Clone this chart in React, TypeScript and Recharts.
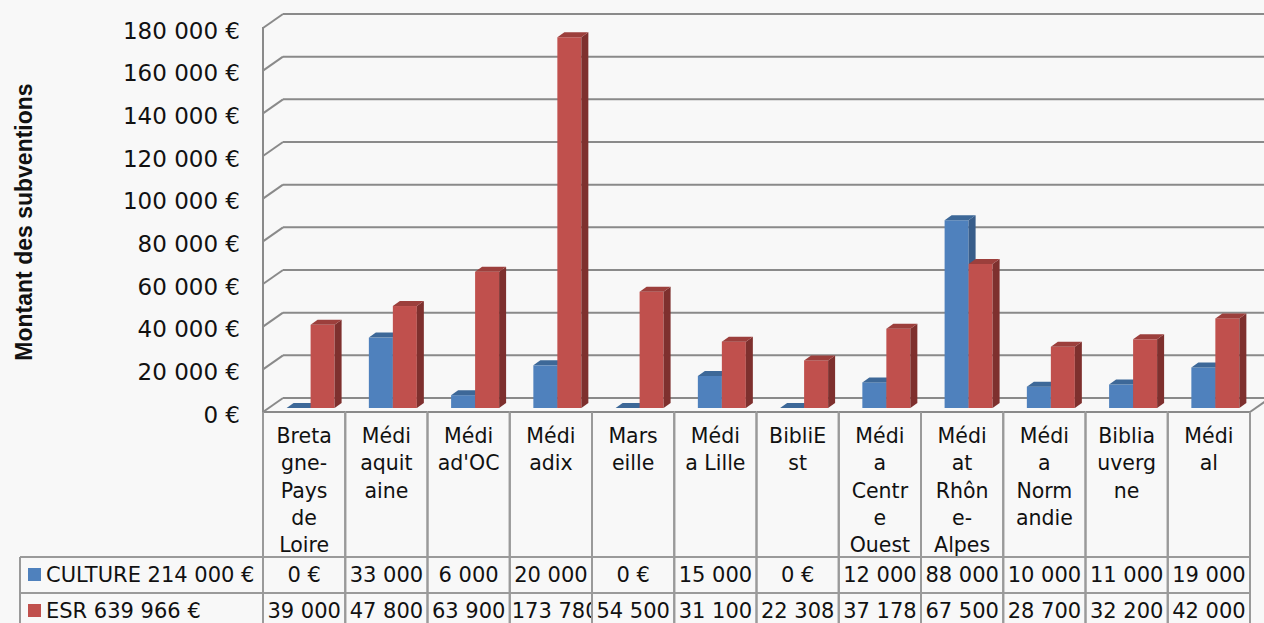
import { BarChart, Bar, XAxis, YAxis, CartesianGrid } from 'recharts';

const CATEGORIES = [
  'Bretagne-Pays de Loire', 'Médiaquitaine', "Médiad'OC", 'Médiadix', 'Marseille', 'Média Lille',
  'BibliEst', 'Média Centre Ouest', 'Médiat Rhône-Alpes', 'Média Normandie', 'Bibliauvergne', 'Médial',
];
// wrapped exactly as in the data table header
const CATEGORY_LINES = [
  ['Breta', 'gne-', 'Pays', 'de', 'Loire'], ['Médi', 'aquit', 'aine'], ['Médi', "ad'OC"], ['Médi', 'adix'],
  ['Mars', 'eille'], ['Médi', 'a Lille'], ['BibliE', 'st'], ['Médi', 'a', 'Centr', 'e', 'Ouest'],
  ['Médi', 'at', 'Rhôn', 'e-', 'Alpes'], ['Médi', 'a', 'Norm', 'andie'], ['Biblia', 'uverg', 'ne'], ['Médi', 'al'],
];
const CULTURE = [0, 33000, 6000, 20000, 0, 15000, 0, 12000, 88000, 10000, 11000, 19000];
const ESR = [39000, 47800, 63900, 173780, 54500, 31100, 22308, 37178, 67500, 28700, 32200, 42000];
const Y_TICKS = [0, 20000, 40000, 60000, 80000, 100000, 120000, 140000, 160000, 180000];

const data = CATEGORIES.map((name, i) => ({ name, culture: CULTURE[i], esr: ESR[i] }));

const W = 1264;
const H = 623;
const PLOT_LEFT = 269;
const PLOT_RIGHT = 1256;
const PLOT_TOP = 24;
const PLOT_BOTTOM = 408;
const BAND = (PLOT_RIGHT - PLOT_LEFT) / CATEGORIES.length;
// offsets of the front / back walls relative to the plane the bars stand in
const FRONT = { dx: -6, dy: 4 };
const BACK = { dx: 14, dy: -10 };
const DEPTH = { dx: 7, dy: -5 };
const ROW1 = 557;
const ROW2 = 593;
const GRID = '#8a8a8a';
const LINE = '#9a9a9a';
const FONT = "'DejaVu Sans', sans-serif";
const CELL_FONT = 21;

const fmt = (n: number) => String(n).replace(/\B(?=(\d{3})+(?!\d))/g, ' ');
const cellText = (n: number) => (n === 0 ? '0 €' : fmt(n));
const sum = (a: number[]) => a.reduce((s, v) => s + v, 0);
// rough DejaVu Sans width, used to start-align text that overflows its cell (as Excel does)
const textWidth = (t: string, size: number) => [...t].reduce((w, c) => w + (c === ' ' ? 0.318 : 0.636), 0) * size;

const SERIES = [
  { key: 'culture', label: `CULTURE ${fmt(sum(CULTURE))} €`, values: CULTURE, front: '#4f81bd', top: '#3d6898', side: '#385d8a' },
  { key: 'esr', label: `ESR ${fmt(sum(ESR))} €`, values: ESR, front: '#c0504d', top: '#9c3f3c', side: '#7e302e' },
];

function Bar3D(props: any) {
  const { x, y, width, height, front, top, side } = props;
  const w = width, h = Math.max(0, height);
  const { dx, dy } = DEPTH;
  return (
    <g>
      {h > 0 && <rect x={x} y={y} width={w} height={h} fill={front} />}
      {h > 0 && (
        <polygon points={`${x + w},${y} ${x + w + dx},${y + dy} ${x + w + dx},${y + h + dy} ${x + w},${y + h}`} fill={side} />
      )}
      <polygon points={`${x},${y} ${x + dx},${y + dy} ${x + w + dx},${y + dy} ${x + w},${y}`} fill={top} />
    </g>
  );
}

function GridLine(props: any) {
  const { y1, index } = props;
  return (
    <g key={`g${index}`}>
      <line x1={PLOT_LEFT + BACK.dx} y1={y1 + BACK.dy} x2={W + 10} y2={y1 + BACK.dy} stroke={GRID} strokeWidth={2} />
      <line x1={PLOT_LEFT + FRONT.dx} y1={y1 + FRONT.dy} x2={PLOT_LEFT + BACK.dx} y2={y1 + BACK.dy} stroke={GRID} strokeWidth={2} />
    </g>
  );
}

function YTick(props: any) {
  const { y, payload } = props;
  const fy = y + FRONT.dy;
  return (
    <g>
      <text x={240} y={fy + 2.5} textAnchor="end" dominantBaseline="central" fontFamily={FONT} fontSize={23} fill="#111">
        {`${fmt(payload.value)} €`}
      </text>
      {payload.value === Y_TICKS[Y_TICKS.length - 1] && (
        <line x1={PLOT_LEFT + FRONT.dx} y1={fy - 1} x2={PLOT_LEFT + FRONT.dx} y2={PLOT_BOTTOM + FRONT.dy} stroke={GRID} strokeWidth={2} />
      )}
      {payload.value === 0 && (
        <text
          transform={`translate(24, ${(PLOT_TOP + PLOT_BOTTOM) / 2 + 6}) rotate(-90)`}
          textAnchor="middle" dominantBaseline="central"
          fontFamily="'Liberation Sans', Arial, sans-serif" fontWeight="bold" fontSize={23} fill="#111"
        >
          Montant des subventions
        </text>
      )}
    </g>
  );
}

function XTick(props: any) {
  const { x, payload } = props;
  const i = CATEGORIES.indexOf(payload.value);
  const cx = x + FRONT.dx;
  const left = cx - BAND / 2;
  const right = cx + BAND / 2;
  const floor = PLOT_BOTTOM + FRONT.dy;
  const last = i === CATEGORIES.length - 1;
  const clipId = `cell-clip-${i}`;
  return (
    <g>
      <defs>
        <clipPath id={clipId}>
          <rect x={left + 1} y={ROW1} width={BAND - 2} height={H - ROW1} />
        </clipPath>
      </defs>
      <line x1={left} y1={floor} x2={right} y2={floor} stroke={GRID} strokeWidth={2} />
      {last && <line x1={right} y1={floor} x2={right + 20} y2={floor - 14} stroke={GRID} strokeWidth={2} />}
      <line x1={left} y1={floor} x2={left} y2={H} stroke={LINE} strokeWidth={2} />
      <line x1={right} y1={floor} x2={right} y2={H} stroke={LINE} strokeWidth={2} />
      <line x1={left} y1={ROW1} x2={right} y2={ROW1} stroke={LINE} strokeWidth={2} />
      <line x1={left} y1={ROW2} x2={right} y2={ROW2} stroke={LINE} strokeWidth={2} />
      {CATEGORY_LINES[i].map((t, k) => (
        <text key={k} x={cx} y={443 + k * 27.25} textAnchor="middle" fontFamily={FONT} fontSize={20.5} fill="#111">
          {t}
        </text>
      ))}
      <g clipPath={`url(#${clipId})`}>
        {SERIES.map((s, r) => {
          const t = cellText(s.values[i]);
          const fits = textWidth(t, CELL_FONT) <= BAND - 4;
          return (
            <text
              key={s.key}
              x={fits ? cx : left + 2}
              y={(r === 0 ? ROW1 : ROW2) + 18}
              textAnchor={fits ? 'middle' : 'start'}
              dominantBaseline="central"
              fontFamily={FONT} fontSize={CELL_FONT} fill="#111"
            >
              {t}
            </text>
          );
        })}
      </g>
      {i === 0 && (
        <g>
          <line x1={20} y1={ROW1} x2={left} y2={ROW1} stroke={LINE} strokeWidth={2} />
          <line x1={20} y1={ROW2} x2={left} y2={ROW2} stroke={LINE} strokeWidth={2} />
          <line x1={20} y1={ROW1} x2={20} y2={H} stroke={LINE} strokeWidth={2} />
          {SERIES.map((s, r) => {
            const cy = (r === 0 ? ROW1 : ROW2) + 18;
            return (
              <g key={s.key}>
                <rect x={28} y={cy - 7} width={13} height={13} fill={s.front} />
                <text x={46} y={cy} dominantBaseline="central" fontFamily={FONT} fontSize={CELL_FONT} fill="#111">
                  {s.label}
                </text>
              </g>
            );
          })}
        </g>
      )}
    </g>
  );
}

export default function App() {
  return (
    <div style={{ position: 'absolute', left: 0, top: 0, width: W, height: H, background: '#f8f8f8', overflow: 'hidden' }}>
      <BarChart
        width={W}
        height={H}
        data={data}
        margin={{ top: PLOT_TOP, right: W - PLOT_RIGHT, bottom: 0, left: PLOT_LEFT - 60 }}
        barCategoryGap="21.4%"
        barGap={0}
      >
        <CartesianGrid vertical={false} horizontal={(p: any) => <GridLine {...p} />} />
        <XAxis
          dataKey="name" height={H - PLOT_BOTTOM} axisLine={false} tickLine={false}
          interval={0} tick={(p: any) => <XTick {...p} />}
        />
        <YAxis
          width={60} domain={[0, 180000]} ticks={Y_TICKS} interval={0}
          axisLine={false} tickLine={false} tick={(p: any) => <YTick {...p} />}
        />
        {SERIES.map(s => (
          <Bar
            key={s.key}
            dataKey={s.key}
            isAnimationActive={false}
            shape={(p: any) => <Bar3D {...p} front={s.front} top={s.top} side={s.side} />}
          />
        ))}
      </BarChart>
    </div>
  );
}
